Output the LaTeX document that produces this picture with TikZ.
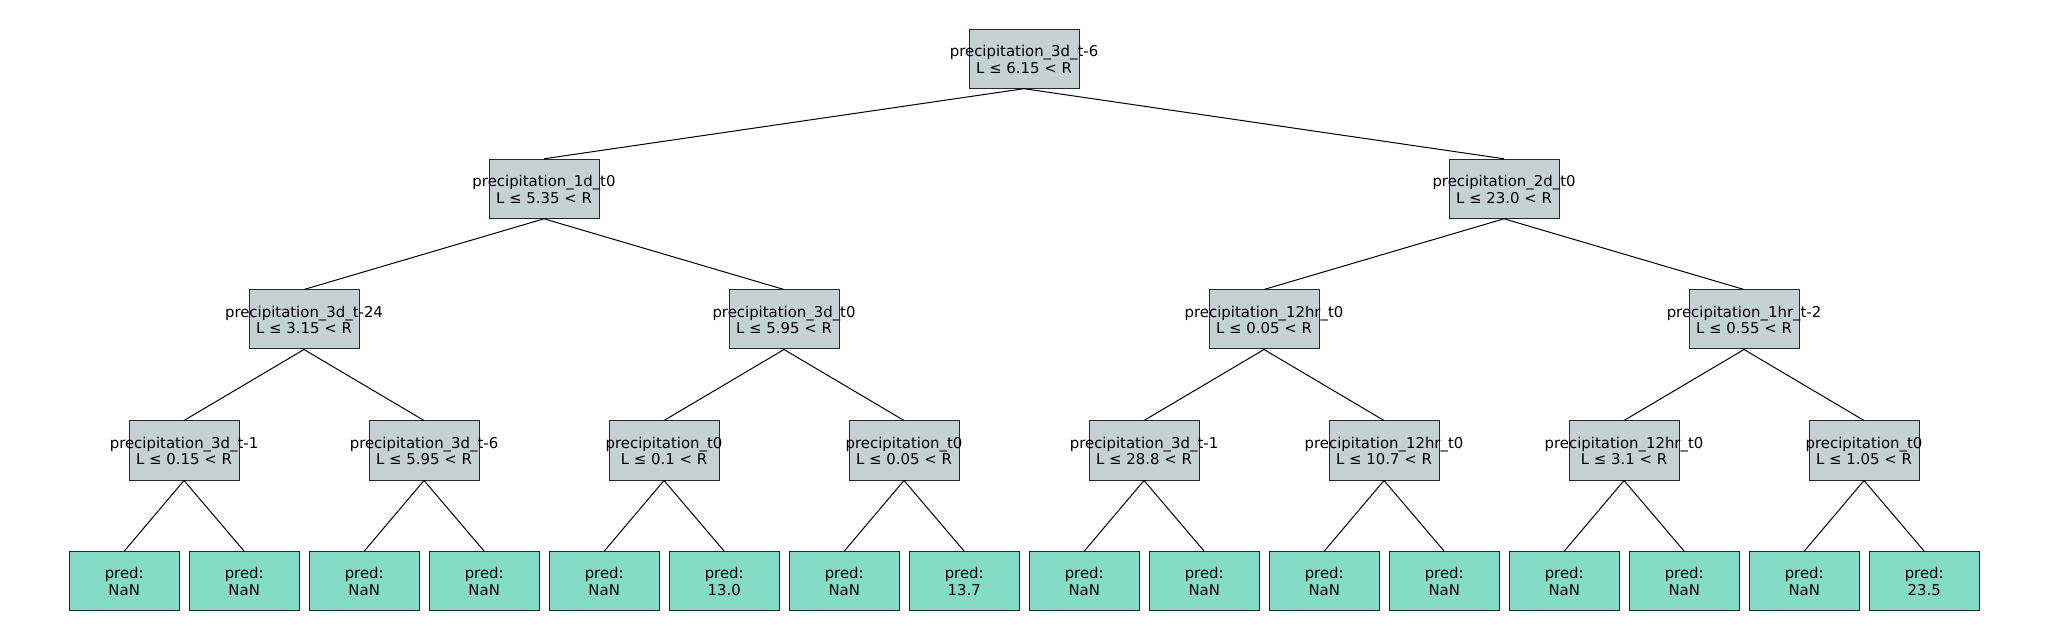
\documentclass[tikz,border=0pt]{standalone}
\usepackage{fontspec}
\setmainfont{DejaVu Sans}
\definecolor{splitfill}{RGB}{197,210,211}
\definecolor{leaffill}{RGB}{132,220,198}
\definecolor{edgeclr}{RGB}{40,40,40}
\newcommand{\tx}[2]{\makebox[0pt]{\raisebox{-3.1pt}[0pt][0pt]{\begin{tabular}{@{}c@{}}#1\\#2\end{tabular}}}}
\begin{document}
\begin{tikzpicture}[x=0.5pt,y=-0.5pt,
  box/.style={draw=edgeclr,line width=0.5pt,minimum width=55pt,minimum height=29.5pt,inner sep=0pt,
    font=\fontsize{7.45}{8.4}\selectfont},
  split/.style={box,fill=splitfill},
  leaf/.style={box,fill=leaffill},
  conn/.style={line width=0.5pt,black}]
\useasboundingbox (0,0) rectangle (2048,640);
% level 0
\node[split] (r) at (1024,58.7) {\tx{precipitation\_3d\_t-6}{L ≤ 6.15 < R}};
% level 1
\node[split] (a) at (544,188.8) {\tx{precipitation\_1d\_t0}{L ≤ 5.35 < R}};
\node[split] (b) at (1504,188.8) {\tx{precipitation\_2d\_t0}{L ≤ 23.0 < R}};
% level 2
\node[split] (aa) at (304,319.5) {\tx{precipitation\_3d\_t-24}{L ≤ 3.15 < R}};
\node[split] (ab) at (784,319.5) {\tx{precipitation\_3d\_t0}{L ≤ 5.95 < R}};
\node[split] (ba) at (1264,319.5) {\tx{precipitation\_12hr\_t0}{L ≤ 0.05 < R}};
\node[split] (bb) at (1744,319.5) {\tx{precipitation\_1hr\_t-2}{L ≤ 0.55 < R}};
% level 3
\node[split] (aaa) at (184,450.5) {\tx{precipitation\_3d\_t-1}{L ≤ 0.15 < R}};
\node[split] (aab) at (424,450.5) {\tx{precipitation\_3d\_t-6}{L ≤ 5.95 < R}};
\node[split] (aba) at (664,450.5) {\tx{precipitation\_t0}{L ≤ 0.1 < R}};
\node[split] (abb) at (904,450.5) {\tx{precipitation\_t0}{L ≤ 0.05 < R}};
\node[split] (baa) at (1144,450.5) {\tx{precipitation\_3d\_t-1}{L ≤ 28.8 < R}};
\node[split] (bab) at (1384,450.5) {\tx{precipitation\_12hr\_t0}{L ≤ 10.7 < R}};
\node[split] (bba) at (1624,450.5) {\tx{precipitation\_12hr\_t0}{L ≤ 3.1 < R}};
\node[split] (bbb) at (1864,450.5) {\tx{precipitation\_t0}{L ≤ 1.05 < R}};
% leaves
\foreach \i/\v/\p in {1/NaN/aaa,2/NaN/aaa,3/NaN/aab,4/NaN/aab,5/NaN/aba,6/13.0/aba,7/NaN/abb,8/13.7/abb,
  9/NaN/baa,10/NaN/baa,11/NaN/bab,12/NaN/bab,13/NaN/bba,14/NaN/bba,15/NaN/bbb,16/23.5/bbb}{
  \node[leaf] (l\i) at ({124.2+(\i-1)*120},581.2) {\tx{pred:}{\v}};
  \draw[conn] (\p.south) -- (l\i.north);
}
% connectors
\foreach \p/\c in {r/a,r/b,a/aa,a/ab,b/ba,b/bb,aa/aaa,aa/aab,ab/aba,ab/abb,ba/baa,ba/bab,bb/bba,bb/bbb}{
  \draw[conn] (\p.south) -- (\c.north);
}
\end{tikzpicture}
\end{document}
